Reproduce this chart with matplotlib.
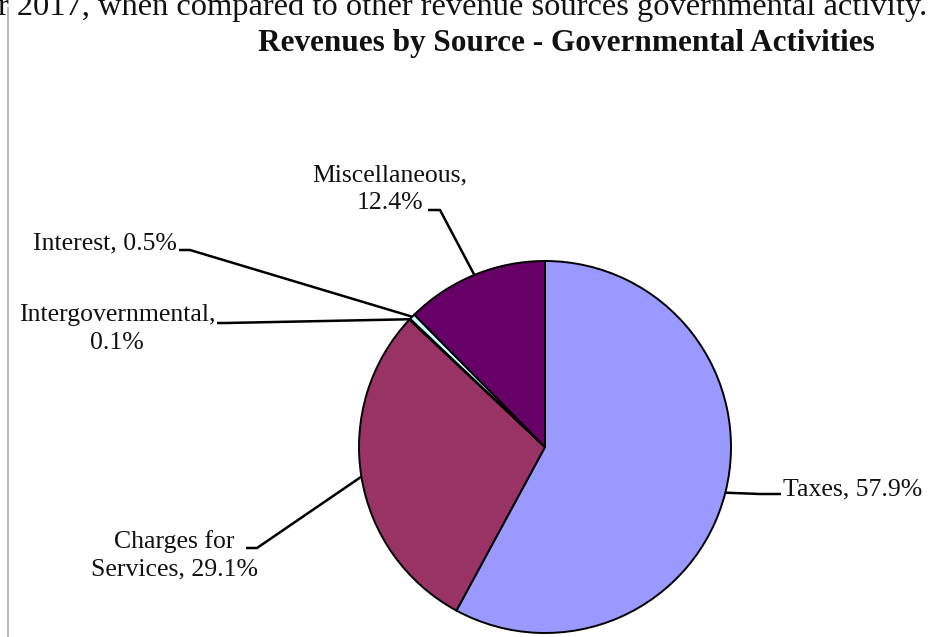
import matplotlib
matplotlib.use("Agg")
import matplotlib.pyplot as plt
import numpy as np

categories = ["Taxes", "Charges for\nServices", "Intergovernmental", "Interest", "Miscellaneous"]
values = [57.9, 29.1, 0.1, 0.5, 12.4]
label_texts = ["Taxes, 57.9%", "Charges for\nServices, 29.1%", "Intergovernmental,\n0.1%",
               "Interest, 0.5%", "Miscellaneous,\n12.4%"]
colors = ["#9999FF", "#993366", "#FFFFCC", "#CCFFFF", "#660066"]
title = "Revenues by Source - Governmental Activities"
top_sentence = "r 2017, when compared to other revenue sources governmental activity."

W, H = 930, 637
plt.rcParams['font.family'] = ['Liberation Serif', 'DejaVu Serif']

fig = plt.figure(figsize=(W / 100, H / 100), dpi=100)
ax = fig.add_axes([0, 0, 1, 1])

def P(x, y):
    return (x, H - y)

cx, cy, R = 545, 447, 186
wedges, _ = ax.pie(values, colors=colors, startangle=90, counterclock=False,
                   center=P(cx, cy), radius=R,
                   wedgeprops=dict(edgecolor="black", linewidth=1.4))
ax.set_xlim(0, W)
ax.set_ylim(0, H)
ax.set_aspect('auto')
ax.set_axis_off()

# label layout: (text x, text y, ha, leader start, elbow)
layout = [
    (783, 489, "left", (781, 494), (760, 494)),
    (174, 555, "center", (246, 548), (257, 548)),
    (117, 329, "center", (217, 323), (226, 323)),
    (105, 243, "center", (179, 250), (190, 250)),
    (390, 189, "center", (428, 210), (440, 210)),
]

for w, txt, (tx, ty, ha, s, e) in zip(wedges, label_texts, layout):
    mid = np.deg2rad((w.theta1 + w.theta2) / 2)
    ax_x = w.center[0] + w.r * np.cos(mid)
    ax_y = w.center[1] + w.r * np.sin(mid)
    xs = [s[0], e[0], ax_x]
    ys = [H - s[1], H - e[1], ax_y]
    ax.plot(xs, ys, color="black", linewidth=1.8, solid_capstyle='butt', zorder=5)
    ax.text(*P(tx, ty), txt, ha=ha, va="center", fontsize=18.5, color="#111111",
            linespacing=1.3, multialignment="center")

ax.text(*P(566, 43), title, ha="center", va="center", fontsize=22.5, fontweight="bold",
        color="#111111")
ax.text(*P(-2, 15), top_sentence, ha="left", va="baseline", fontsize=23.4, color="#111111")
ax.plot([8, 8], [0, H - 8], color="#bbbbbb", linewidth=1.5)

fig.savefig("out.png", dpi=100)
